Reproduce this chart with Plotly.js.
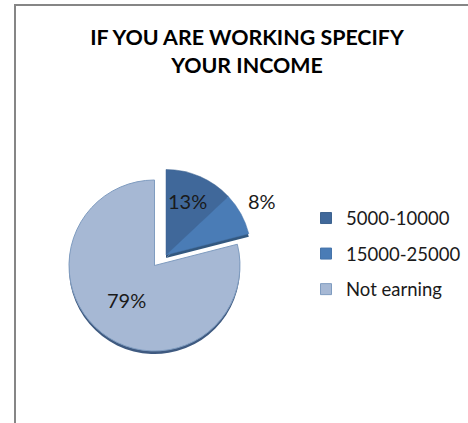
<!DOCTYPE html>
<html><head><meta charset="utf-8">
<script src="https://cdn.plot.ly/plotly-3.0.1.min.js"></script>
<style>html,body{margin:0;padding:0;background:#fff}</style></head>
<body><div id="chart" style="width:468px;height:423px"></div>
<script>
const categories = ["5000-10000", "15000-25000", "Not earning"];
const shares = [13, 8, 79];
const colors = ["#40689a", "#4a7cb6", "#a6b8d4"];
const edgeColors = ["#3d6390", "#4674aa", "#7f9cc0"];
const depthColors = ["#2f4f78", "#33587f", "#3f5a80"];
const titleText = "IF YOU ARE WORKING SPECIFY<br>YOUR INCOME";

const W = 468, H = 423, NONE = "rgba(0,0,0,0)";
const dom = (cx, cy, r) => ({x:[(cx-r)/W,(cx+r)/W], y:[1-(cy+r)/H,1-(cy-r)/H]});
const pieBase = {type:"pie", labels:categories, values:shares, sort:false, direction:"clockwise",
  rotation:0, textinfo:"none", hoverinfo:"label+percent", showlegend:false};
const show = (arr, idx) => arr.map((c,i)=> idx.includes(i) ? c : NONE);
const main = [2], pulled = [0,1];
const traces = [
  {...pieBase, domain:dom(154.5,268.5,85.5), marker:{colors:show(depthColors,main), line:{width:0}}},
  {...pieBase, domain:dom(166,258,85.5), marker:{colors:show(depthColors,pulled), line:{width:0}}},
  {...pieBase, domain:dom(154.5,265.5,85.5), marker:{colors:show(colors,main), line:{width:1,color:show(edgeColors,main)}}},
  {...pieBase, domain:dom(166,255,85.5), marker:{colors:show(colors,pulled), line:{width:0.5,color:show(edgeColors,pulled)}}},
];
categories.forEach((c,i)=>traces.push({type:"scatter", mode:"markers", x:[null], y:[null], name:c,
  legendgroup:c, showlegend:true, hoverinfo:"skip",
  marker:{symbol:"square", size:11, color:colors[i], line:{width:1, color:edgeColors[i]}}}));

const font = "Lato, 'Open Sans', sans-serif";
const pct = (x,y,i)=>({xref:"paper",yref:"paper",x:x/W,y:1-y/H,text:shares[i]+"%",showarrow:false,
  xanchor:"center",yanchor:"middle",font:{family:font,size:20,color:"#1a1a1a"}});
const layout = {
  width:W, height:H, margin:{l:0,r:0,t:0,b:0}, paper_bgcolor:"#fff", plot_bgcolor:"#fff",
  title:{text:titleText, font:{family:font,size:21.4,color:"#000",weight:700}, x:247/W, xanchor:"center", xref:"paper",
    y:1-45/H, yanchor:"middle", yref:"paper"},
  xaxis:{visible:false, domain:[0,1]}, yaxis:{visible:false, domain:[0,1]},
  legend:{x:466/W, y:1-199.5/H, xanchor:"right", yanchor:"top", tracegroupgap:8.5, bgcolor:NONE,
    font:{family:font,size:18.5,color:"#1a1a1a"}, itemwidth:30},
  shapes:[{type:"rect",xref:"paper",yref:"paper",x0:15/W,x1:1.05,y0:-0.05,y1:1-5/H,line:{color:"#868686",width:2},fillcolor:NONE}],
  annotations:[pct(187,201,0),pct(262,201,1),pct(127,300,2)]
};
Plotly.newPlot("chart",traces,layout,{displayModeBar:false,responsive:false});
</script></body></html>
